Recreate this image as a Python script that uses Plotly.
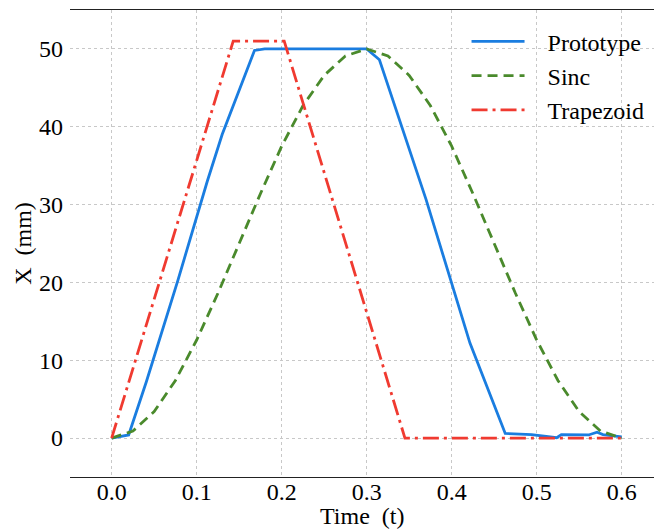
import plotly.graph_objects as go

# ---- data ----
proto_t = [0, 0.02, 0.041, 0.078, 0.1125, 0.13, 0.168, 0.18, 0.30, 0.315,
           0.37, 0.40, 0.4215, 0.463, 0.494, 0.5235, 0.529, 0.561, 0.571, 0.578, 0.60]
proto_x = [0, 0.4, 7.3, 20.3, 33.0, 39.0, 49.8, 50.0, 50.0, 48.6,
           30.6, 19.9, 12.2, 0.6, 0.45, 0.05, 0.45, 0.4, 0.75, 0.45, 0.15]

sinc_t = [0, 0.025, 0.05, 0.075, 0.1, 0.125, 0.15, 0.175, 0.2, 0.225, 0.25, 0.275, 0.3,
          0.325, 0.35, 0.375, 0.4, 0.425, 0.45, 0.475, 0.5, 0.525, 0.55, 0.575, 0.6]
sinc_x = [0, 0.9, 3.4, 7.4, 12.6, 18.6, 25.0, 31.4, 37.5, 42.7, 46.6, 49.1, 50.0,
          49.1, 46.6, 42.7, 37.5, 31.4, 25.0, 18.6, 12.6, 7.4, 3.4, 0.9, 0]

trap_t = [0, 0.143, 0.203, 0.345, 0.6]
trap_x = [0, 51.0, 51.0, 0, 0]

series_names = ["Prototype", "Sinc", "Trapezoid"]
x_ticks = [0.0, 0.1, 0.2, 0.3, 0.4, 0.5, 0.6]
y_ticks = [0, 10, 20, 30, 40, 50]
x_title = "Time  (t)"
y_title = "X  (mm)"

FONT = "Liberation Serif"
FS = 24
PAD = "\u00a0\u00a0\u00a0"

fig = go.Figure()
fig.add_trace(go.Scatter(x=proto_t, y=proto_x, mode="lines", name=PAD + series_names[0],
                         line=dict(color="#1a7de0", width=2.8)))
fig.add_trace(go.Scatter(x=sinc_t, y=sinc_x, mode="lines", name=PAD + series_names[1],
                         line=dict(color="#4a8a2c", width=2.8, dash="10px,6px")))
fig.add_trace(go.Scatter(x=trap_t, y=trap_x, mode="lines", name=PAD + series_names[2],
                         line=dict(color="#f03a30", width=2.8, dash="16px,5px,3px,5px")))

fig.update_layout(
    width=654, height=529,
    margin=dict(l=70, r=0, t=10, b=52, autoexpand=False),
    paper_bgcolor="white", plot_bgcolor="white",
    font=dict(family=FONT, size=FS, color="black"),
    showlegend=True,
    legend=dict(x=0.679, y=0.98, xanchor="left", yanchor="top",
                bgcolor="rgba(255,255,255,0)", borderwidth=0,
                font=dict(family=FONT, size=FS), itemwidth=53),
    xaxis=dict(range=[-0.049, 0.638], tickvals=x_ticks, tickformat=".1f",
               showgrid=True, gridcolor="#c8c8c8", griddash="3px,3px", gridwidth=1,
               zeroline=False, showline=True, linecolor="#222", linewidth=1.3, mirror=True,
               ticks="", ticklabelstandoff=-7, automargin=False),
    yaxis=dict(range=[-5, 55], tickvals=y_ticks,
               showgrid=True, gridcolor="#c8c8c8", griddash="3px,3px", gridwidth=1,
               zeroline=False, showline=False, ticks="", ticklabelstandoff=6, automargin=False,
               title=dict(text=y_title, standoff=0, font=dict(family=FONT, size=FS))),
    annotations=[dict(text=x_title, xref="paper", yref="paper", x=0.5, y=-0.0835,
                      xanchor="center", yanchor="middle", showarrow=False,
                      font=dict(family=FONT, size=FS, color="black"))],
)

fig.write_html("out.html", config={"displayModeBar": False},
               post_script="document.body.style.margin='0';document.body.style.overflow='hidden';")
